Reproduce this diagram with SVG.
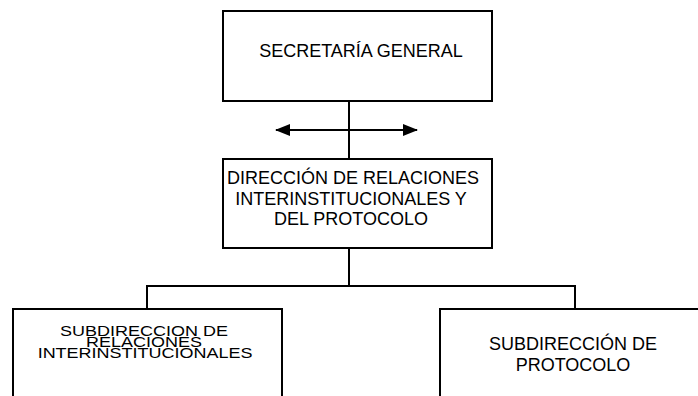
<svg xmlns="http://www.w3.org/2000/svg" width="698" height="396" viewBox="0 0 698 396">
<style>
.box{fill:#fff;stroke:#000;stroke-width:2}
.ln{fill:none;stroke:#000;stroke-width:2}
text{font-family:"Liberation Sans",Arial,sans-serif;font-size:18px;fill:#000;text-anchor:middle}
</style>
<defs>
<marker id="ah" viewBox="0 0 15 12" refX="14" refY="6" markerWidth="15" markerHeight="12" markerUnits="userSpaceOnUse" orient="auto-start-reverse">
<path d="M0,0 L15,6 L0,12 Z" fill="#000"/>
</marker>
</defs>
<rect width="698" height="396" fill="#fff"/>
<g id="connectors">
<line class="ln" x1="349" y1="101" x2="349" y2="159"/>
<line class="ln" x1="276" y1="130" x2="417" y2="130" marker-start="url(#ah)" marker-end="url(#ah)"/>
<path class="ln" d="M349,248 V286 M147,309 V286 H575 V309"/>
</g>
<g id="secretaria">
<rect class="box" x="223" y="11" width="269" height="90"/>
<text x="361" y="57">SECRETARÍA GENERAL</text>
</g>
<g id="direccion">
<rect class="box" x="223" y="159" width="269" height="89"/>
<text x="353" y="184">DIRECCIÓN DE RELACIONES</text>
<text x="351" y="205">INTERINSTITUCIONALES Y</text>
<text x="351" y="225">DEL PROTOCOLO</text>
</g>
<g id="subdir-relaciones">
<path class="box" d="M13,400 V309 H282 V400"/>
<text transform="translate(144,336) scale(1,0.82)">SUBDIRECCION DE</text>
<text transform="translate(144,347) scale(1,0.82)">RELACIONES</text>
<text transform="translate(145,358) scale(1,0.82)">INTERINSTITUCIONALES</text>
</g>
<g id="subdir-protocolo">
<path class="box" d="M440,400 V309 H702"/>
<text x="573" y="350">SUBDIRECCIÓN DE</text>
<text x="573" y="371">PROTOCOLO</text>
</g>
</svg>
